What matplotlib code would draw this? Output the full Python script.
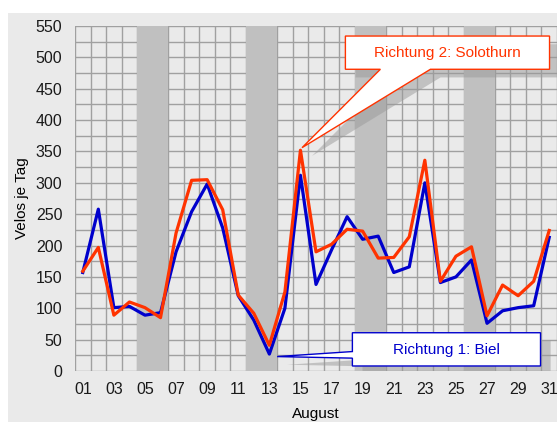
import numpy as np
import matplotlib
matplotlib.use("Agg")
import matplotlib.pyplot as plt
from matplotlib.patches import Rectangle, Polygon

plt.rcParams['font.family'] = ['Liberation Sans', 'DejaVu Sans']

# Tage im August
tage = list(range(1, 32))
tick_labels = ['%02d' % t for t in tage[::2]]

# Velos je Tag, Richtung 1: Biel
biel = [157, 258, 101, 103, 89, 93, 190, 254, 298, 228, 120, 81, 27, 100, 312, 138,
        193, 246, 210, 215, 157, 166, 300, 141, 150, 177, 76, 96, 101, 104, 213]
# Velos je Tag, Richtung 2: Solothurn
solothurn = [159, 197, 89, 110, 101, 85, 220, 304, 305, 257, 121, 92, 41, 126, 352, 190,
             202, 226, 223, 180, 181, 214, 336, 143, 183, 198, 88, 137, 120, 143, 224]

# Wochenenden (Sa/So)
wochenenden = [(5, 6), (12, 13), (19, 20), (26, 27)]

fig = plt.figure(figsize=(5.57, 4.22), dpi=100)
fig.patch.set_facecolor('white')
fig.patches.append(Rectangle((8 / 557, 0), 1, 1 - 13 / 422, transform=fig.transFigure,
                             facecolor='#eaeaea', edgecolor='none', zorder=-10))

ax = fig.add_axes([75 / 557, 1 - 371 / 422, 1 - 75 / 557, (371 - 26) / 422])
ax.set_facecolor('#eaeaea')
ax.set_xlim(0.5, 31.5)
ax.set_ylim(0, 550)

# Wochenenden grau hinterlegt (über dem Gitter)
for a, b in wochenenden:
    ax.axvspan(a - 0.5, b + 0.5, color='#c0c0c0', zorder=1, lw=0)

# Gitter
ax.set_yticks(np.arange(0, 551, 50))
ax.set_yticks(np.arange(25, 551, 50), minor=True)
ax.set_xticks(tage[::2])
ax.set_xticklabels(tick_labels)
ax.set_xticks(np.arange(0.5, 32, 1), minor=True)
ax.grid(which='major', axis='y', color='#a0a0a0', lw=1)
ax.grid(which='minor', axis='both', color='#a0a0a0', lw=1)
ax.set_axisbelow(True)
for s in ax.spines.values():
    s.set_visible(False)
ax.tick_params(which='both', length=0, labelsize=11.5, colors='#1a1a1a')
ax.tick_params(axis='y', pad=9)
ax.tick_params(axis='x', pad=8)

ax.plot(tage, biel, color='#0000cc', lw=2.3, zorder=3)
ax.plot(tage, solothurn, color='#ff3300', lw=2.3, zorder=4)

ax.set_ylabel('Velos je Tag', fontsize=11, labelpad=5)
ax.set_xlabel('August', fontsize=11, labelpad=7)

# Legenden-Callouts mit Schatten
dx, dy = 0.65, -13


def callout(pts, edge, zs):
    sh = [(x + dx, y + dy) for x, y in pts]
    ax.add_patch(Polygon(sh, closed=True, facecolor='#9a9a9a', alpha=0.5,
                         edgecolor='none', zorder=zs))
    ax.add_patch(Polygon(pts, closed=True, facecolor='white', edgecolor=edge,
                         lw=1, zorder=zs + 1, clip_on=False))


sol_box = [(17.89, 534), (31.02, 534), (31.02, 481), (23.36, 481), (15.1, 356),
           (20.14, 481), (17.89, 481)]
callout(sol_box, '#ff3300', 5)
ax.text(24.45, 507, 'Richtung 2: Solothurn', color='#ff3300', fontsize=11,
        ha='center', va='center', zorder=7)

biel_box = [(18.34, 61), (30.44, 61), (30.44, 8), (18.34, 8), (18.34, 20.5),
            (13.5, 23), (18.34, 31)]
callout(biel_box, '#0000cc', 5)
ax.text(24.4, 34, 'Richtung 1: Biel', color='#0000cc', fontsize=11,
        ha='center', va='center', zorder=7)

fig.savefig('out.png', dpi=100)
